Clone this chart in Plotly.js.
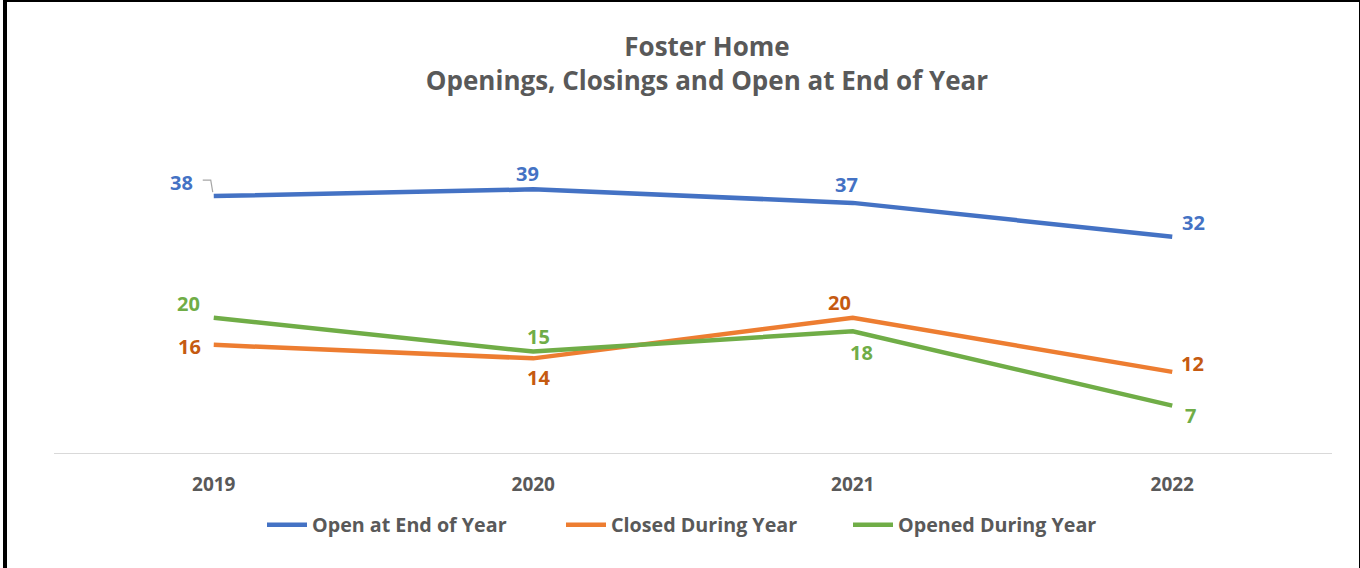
<!DOCTYPE html>
<html><head><meta charset="utf-8">
<script src="https://cdn.plot.ly/plotly-3.0.1.min.js"></script>
<style>
html,body{margin:0;padding:0;background:#fff;}
#wrap{position:relative;width:1360px;height:568px;overflow:hidden;}
#chart{position:absolute;left:0;top:0;width:1360px;height:568px;}
#frame{position:absolute;left:3px;top:0;width:1352px;height:580px;border-left:4px solid #000;border-top:2px solid #000;border-right:2px solid #000;pointer-events:none;}
</style></head>
<body><div id="wrap"><div id="chart"></div><div id="frame"></div></div>
<script>
const years = ['2019','2020','2021','2022'];
const openEnd = [38, 39, 37, 32];
const closed = [16, 14, 20, 12];
const opened = [20, 15, 18, 7];
const seriesNames = ['Open at End of Year','Closed During Year','Opened During Year'];

const lineColors = ['#4472C4','#ED7D31','#70AD47'];
const labelColors = ['#4472C4','#C55A11','#70AD47'];
const labelOffsets = [
  [[-32,14],[-6,16],[-6,18],[21,14]],
  [[-24,-2],[5,-19],[-13,15],[20,8]],
  [[-25,14],[5,15],[9,-21],[18,-10]]
];
const legendLeft = [262, 561, 848];
const series = [openEnd, closed, opened];
const FONT = 'Open Sans, Lato, sans-serif';
const legendIds = ['legend','legend2','legend3'];

const traces = series.map((vals,i)=>({
  type:'scatter', mode:'lines', x:years, y:vals, name:seriesNames[i], legend:legendIds[i],
  line:{color:lineColors[i], width:4.5}, hoverinfo:'x+y+name'
}));

const annotations = [];
series.forEach((vals,i)=>{
  vals.forEach((v,j)=>{
    annotations.push({x:j, y:v, xref:'x', yref:'y', text:'<b>'+String(v)+'</b>', showarrow:false,
      xshift:labelOffsets[i][j][0], yshift:labelOffsets[i][j][1],
      font:{family:FONT, size:20, color:labelColors[i]}});
  });
});

const layout = {
  width:1360, height:568,
  paper_bgcolor:'#fff', plot_bgcolor:'#fff',
  margin:{l:54, r:28, t:115, b:115},
  title:{text:'Foster Home<br>Openings, Closings and Open at End of Year',
    font:{family:FONT, size:26, color:'#595959', weight:'bold'},
    x:707/1360, xanchor:'center', xref:'container', y:1-56/568, yanchor:'top', yref:'container'},
  xaxis:{type:'category', range:[-0.5,3.5], showgrid:false, zeroline:false,
    showline:true, linecolor:'#D9D9D9', linewidth:1, ticks:'',
    tickfont:{family:FONT, size:19, color:'#595959', weight:'bold'}, ticklabelstandoff:14, fixedrange:true},
  yaxis:{range:[0,50], visible:false, showgrid:false, zeroline:false, fixedrange:true},
  showlegend:true,
  annotations:annotations,
  shapes:[{type:'path', xref:'x', yref:'y', xsizemode:'pixel', ysizemode:'pixel', xanchor:0, yanchor:openEnd[0],
    path:'M-11,16 L-3,16 L-1,4', line:{color:'#A6A6A6', width:1.2}}]
};
legendIds.forEach((id,i)=>{
  layout[id] = {orientation:'h', x:legendLeft[i]/1360, xanchor:'left', xref:'container',
    y:1-525/568, yanchor:'middle', yref:'container', bgcolor:'rgba(0,0,0,0)',
    font:{family:FONT, size:19.7, color:'#595959', weight:'bold'}, itemwidth:40};
});
Plotly.newPlot('chart', traces, layout, {displayModeBar:false, staticPlot:true});
</script></body></html>
